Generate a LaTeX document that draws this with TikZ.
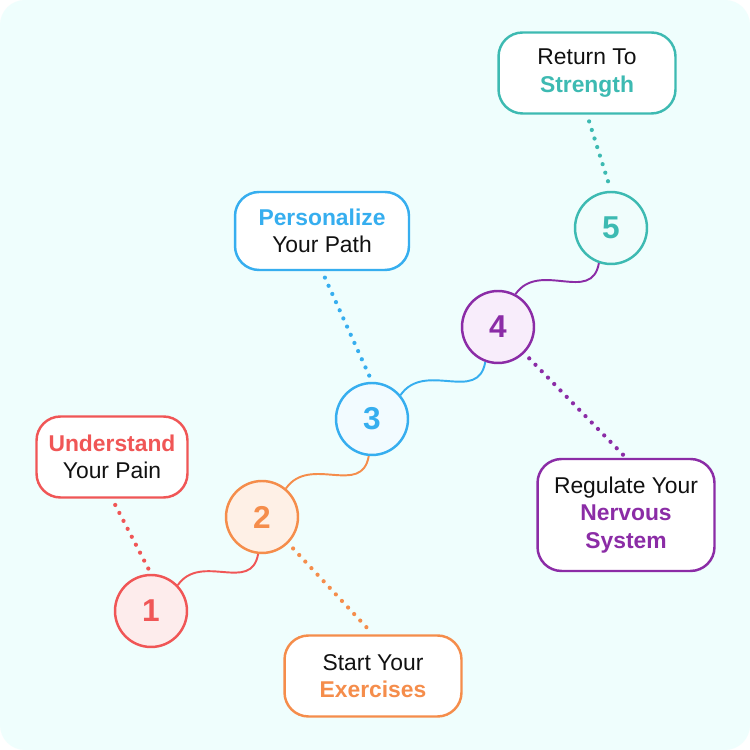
\documentclass[tikz,border=0pt]{standalone}
\usepackage{fontspec}
\setmainfont{Liberation Sans}
\usepackage{xcolor}
\usepackage{tikz}
\definecolor{painred}{HTML}{F05656}
\definecolor{painbg}{HTML}{FDECEC}
\definecolor{exorange}{HTML}{F58D4B}
\definecolor{exbg}{HTML}{FEF0E6}
\definecolor{pathblue}{HTML}{36AEEF}
\definecolor{pathbg}{HTML}{F2FBFF}
\definecolor{nervpurple}{HTML}{8B2CA6}
\definecolor{nervbg}{HTML}{F8EDFB}
\definecolor{strteal}{HTML}{3DBAB2}
\definecolor{strbg}{HTML}{F0FDFC}
\definecolor{pagebg}{HTML}{EFFEFD}
\definecolor{inkblack}{HTML}{111111}

\begin{document}
\begin{tikzpicture}[x=0.02cm, y=0.02cm,
  stepnode/.style={circle, line width=1.4pt, minimum size=1.44cm, inner sep=0pt,
    font=\fontsize{18}{18}\selectfont\bfseries},
  tagbox/.style={draw, fill=white, rounded corners=0.48cm, line width=1.4pt,
    minimum width=3.54cm, minimum height=1.62cm, align=center, text=inkblack,
    font=\fontsize{13}{15.5}\selectfont},
  dots/.style={line width=2.4pt, line cap=round, dash pattern=on 0pt off 5.1pt,
    shorten <=4pt, shorten >=2pt},
  wavy/.style={line width=1.1pt, out=55, in=-100, looseness=1.2}]
  % page
  \fill[white] (0,0) rectangle (750,750);
  \fill[pagebg, rounded corners=0.5cm] (0,0) rectangle (750,750);

  % steps
  \node[stepnode, draw=painred, fill=painbg, text=painred] (c1) at (151,139) {1};
  \node[stepnode, draw=exorange, fill=exbg, text=exorange] (c2) at (262,233) {2};
  \node[stepnode, draw=pathblue, fill=pathbg, text=pathblue] (c3) at (372,331) {3};
  \node[stepnode, draw=nervpurple, fill=nervbg, text=nervpurple] (c4) at (498,423) {4};
  \node[stepnode, draw=strteal, fill=strbg, text=strteal] (c5) at (611,522) {5};

  % labels
  \node[tagbox, draw=painred, minimum width=3.02cm] (pain) at (112,293)
    {\textcolor{painred}{\bfseries Understand}\\Your Pain};
  \node[tagbox, draw=exorange] (exer) at (373,74)
    {Start Your\\\textcolor{exorange}{\bfseries Exercises}};
  \node[tagbox, draw=pathblue, minimum width=3.48cm, minimum height=1.56cm] (path) at (322,519)
    {\textcolor{pathblue}{\bfseries Personalize}\\Your Path};
  \node[tagbox, draw=nervpurple, minimum height=2.24cm] (nerv) at (626,235)
    {Regulate Your\\\textcolor{nervpurple}{\bfseries Nervous}\\\textcolor{nervpurple}{\bfseries System}};
  \node[tagbox, draw=strteal] (str) at (587,677)
    {Return To\\\textcolor{strteal}{\bfseries Strength}};

  % dotted leaders
  \draw[dots, painred] (pain.south) -- (c1.north);
  \draw[dots, exorange] (c2.-45) -- (exer.north);
  \draw[dots, pathblue] (path.south) -- (c3.north);
  \draw[dots, nervpurple] (c4.-45) -- (nerv.north);
  \draw[dots, strteal] (str.south) -- (c5.north);

  % wavy links
  \draw[wavy, painred] (c1.44) to (c2.-96);
  \draw[wavy, exorange] (c2.50) to (c3.-95);
  \draw[wavy, pathblue] (c3.40) to (c4.-110);
  \draw[wavy, nervpurple] (c4.62) to (c5.-109);
\end{tikzpicture}
\end{document}
